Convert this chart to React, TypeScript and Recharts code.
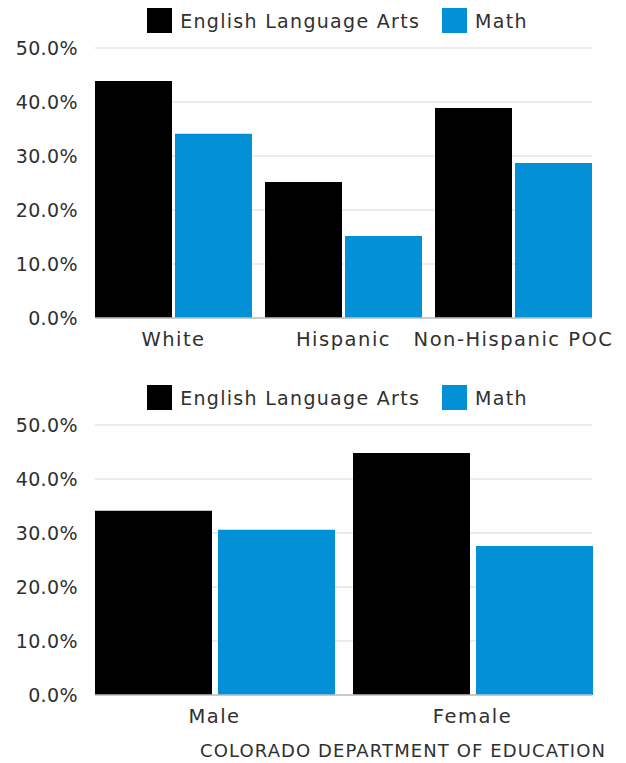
import { BarChart, Bar, XAxis, YAxis, CartesianGrid, Legend } from 'recharts';

const raceCategories = ['White', 'Hispanic', 'Non-Hispanic POC'];
const raceEla = [43.9, 25.2, 38.9];
const raceMath = [34.1, 15.2, 28.7];

const genderCategories = ['Male', 'Female'];
const genderEla = [34.1, 44.8];
const genderMath = [30.6, 27.6];

const yTicks = [0, 10, 20, 30, 40, 50];
const seriesNames = ['English Language Arts', 'Math'];
const source = 'COLORADO DEPARTMENT OF EDUCATION';

const ELA_COLOR = '#000000';
const MATH_COLOR = '#0290D6';
const TEXT = '#303030';
const FONT = '"DejaVu Sans", sans-serif';

const buildRows = (cats: string[], ela: number[], math: number[]) =>
    cats.map((c, i) => ({ name: c, ela: ela[i], math: math[i] }));

const LegendBox = () => (
    <div style={{ height: 40, display: 'flex', justifyContent: 'center', alignItems: 'flex-start', fontFamily: FONT, fontSize: 19, color: TEXT, letterSpacing: 1.3, paddingLeft: 83 }}>
        <div style={{ display: 'flex', alignItems: 'center', marginRight: 22 }}>
            <div style={{ width: 25, height: 25, background: ELA_COLOR, marginRight: 8 }} />
            <span>{seriesNames[0]}</span>
        </div>
        <div style={{ display: 'flex', alignItems: 'center' }}>
            <div style={{ width: 25, height: 25, background: MATH_COLOR, marginRight: 8 }} />
            <span>{seriesNames[1]}</span>
        </div>
    </div>
);

interface SubChartProps {
    rows: { name: string; ela: number; math: number }[];
    catGap: number;
    barGap: number;
}

const SubChart = ({ rows, catGap, barGap }: SubChartProps) => (
    <BarChart
        width={626}
        height={377}
        data={rows}
        margin={{ top: 8, right: 34, bottom: 29, left: 0 }}
        barCategoryGap={catGap}
        barGap={barGap}
    >
        <Legend verticalAlign="top" content={<LegendBox />} />
        <CartesianGrid vertical={false} stroke="#d9d9d9" />
        <XAxis
            dataKey="name"
            tickLine={false}
            axisLine={{ stroke: '#bfbfbf', strokeWidth: 1.5 }}
            tickMargin={8}
            padding={{ left: -catGap, right: -catGap }}
            tick={{ fill: TEXT, fontSize: 19.5, fontFamily: FONT, letterSpacing: 1.5 }}
            interval={0}
        />
        <YAxis
            width={95}
            domain={[0, 50]}
            ticks={yTicks}
            tickLine={false}
            axisLine={false}
            tickMargin={11}
            tickFormatter={(v: number) => v.toFixed(1) + '%'}
            tick={{ fill: TEXT, fontSize: 19, fontFamily: FONT, letterSpacing: 0.4 }}
        />
        <Bar dataKey="ela" name={seriesNames[0]} fill={ELA_COLOR} isAnimationActive={false} />
        <Bar dataKey="math" name={seriesNames[1]} fill={MATH_COLOR} isAnimationActive={false} />
    </BarChart>
);

export default function App() {
    return (
        <div style={{ position: 'absolute', top: 0, left: 0, width: 626, height: 763, background: '#fff' }}>
            <SubChart rows={buildRows(raceCategories, raceEla, raceMath)} catGap={6.5} barGap={3} />
            <SubChart rows={buildRows(genderCategories, genderEla, genderMath)} catGap={9.5} barGap={6} />
            <div style={{ position: 'absolute', top: 740, right: 20, fontFamily: FONT, fontSize: 18, color: TEXT, letterSpacing: 1.1 }}>
                {source}
            </div>
        </div>
    );
}
